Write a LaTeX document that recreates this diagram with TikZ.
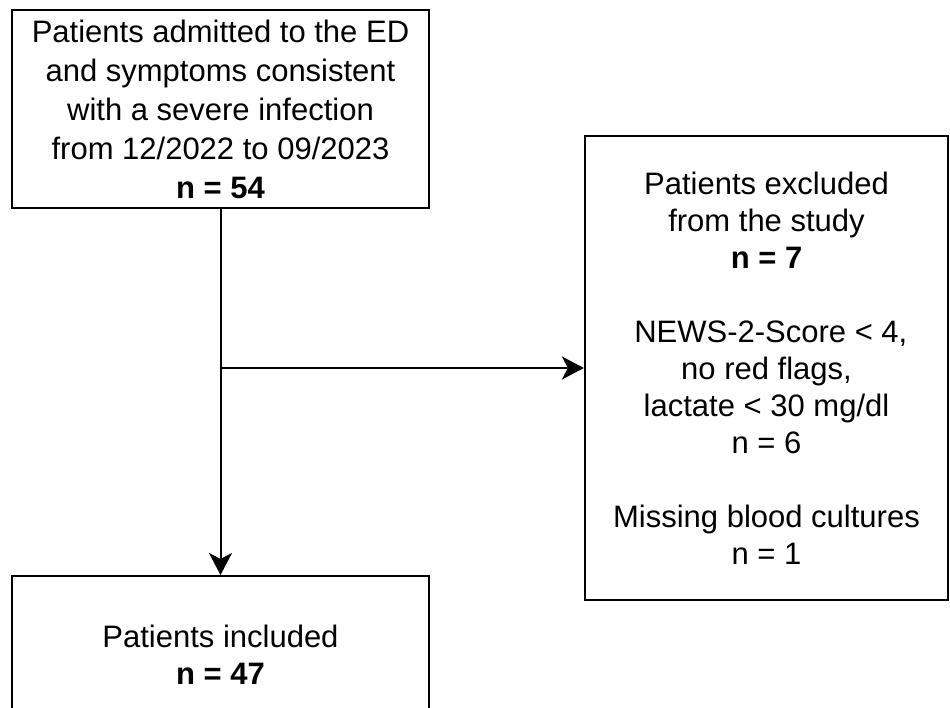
\documentclass[tikz,border=0pt]{standalone}
\usepackage{fontspec}
\setmainfont{Liberation Sans}
\usepackage{tikz}
\usetikzlibrary{arrows.meta, positioning, calc}

\tikzset{
  flowbox/.style={draw=black, line width=2.2pt, align=center, inner sep=0pt,
    font=\fontsize{31}{37}\selectfont},
  flowarrow/.style={line width=2pt, -{Stealth[length=22pt, width=23pt, inset=6pt]}}
}

\begin{document}
\begin{tikzpicture}[x=1pt,y=-1pt]

% ------------------------------------------------------------
% Page frame (950 x 708)
% ------------------------------------------------------------
\useasboundingbox (0,0) rectangle (950,708);

% ------------------------------------------------------------
% Boxes
% ------------------------------------------------------------
\node[flowbox, font=\fontsize{31}{39}\selectfont,
      minimum width=417pt, minimum height=198pt] (admitted) at (220.5,109)
{Patients admitted to the ED\\
 and symptoms consistent\\
 with a severe infection\\
 from 12/2022 to 09/2023\\
 \textbf{n = 54}};

\node[flowbox, minimum width=363pt, minimum height=464pt] (excluded) at (766.5,368)
{Patients excluded\\
 from the study\\
 \textbf{n = 7}\\[37pt]
 \hspace*{0.28em}NEWS-2-Score < 4,\\
 no red flags,\\
 lactate < 30 mg/dl\\
 n = 6\\[37pt]
 Missing blood cultures\\
 n = 1};

\node[flowbox, minimum width=417pt, minimum height=158pt, anchor=north] (included) at (220.5,575)
{Patients included\\
 \textbf{n = 47}};

% ------------------------------------------------------------
% Connectors
% ------------------------------------------------------------
\coordinate (branch) at (admitted.south |- excluded.west);

\draw[flowarrow] (admitted.south) -- (included.north);
\draw[flowarrow] (branch) -- (excluded.west);

\end{tikzpicture}
\end{document}
